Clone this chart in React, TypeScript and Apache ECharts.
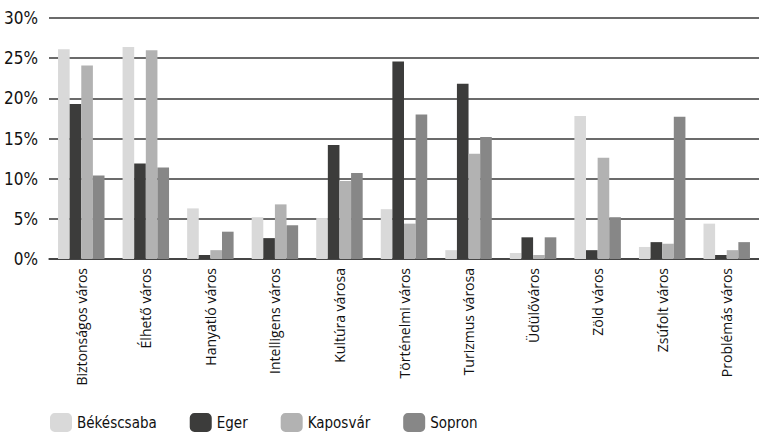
import React, { useEffect, useRef } from "react";
import * as echarts from "echarts";

const categories = [
  "Biztonságos város",
  "Élhető város",
  "Hanyatló város",
  "Intelligens város",
  "Kultúra városa",
  "Történelmi város",
  "Turizmus városa",
  "Üdülőváros",
  "Zöld város",
  "Zsúfolt város",
  "Problémás város",
];
const seriesNames = ["Békéscsaba", "Eger", "Kaposvár", "Sopron"];
const bekescsaba = [26.1, 26.4, 6.3, 5.2, 5.1, 6.2, 1.1, 0.75, 17.8, 1.5, 4.4];
const eger = [19.3, 11.9, 0.5, 2.6, 14.2, 24.6, 21.8, 2.7, 1.1, 2.1, 0.5];
const kaposvar = [24.1, 26.0, 1.1, 6.8, 9.7, 4.4, 13.1, 0.5, 12.6, 1.9, 1.1];
const sopron = [10.4, 11.4, 3.4, 4.2, 10.7, 18.0, 15.2, 2.7, 5.2, 17.7, 2.1];
const colors = ["#d9d9d9", "#3c3c3b", "#b2b2b2", "#878787"];

const condensed = "'DejaVu Sans Condensed', Roboto, sans-serif";

export default function App() {
  const ref = useRef<HTMLDivElement>(null);
  useEffect(() => {
    if (!ref.current) return;
    const chart = echarts.init(ref.current, undefined, { renderer: "svg" });
    const data = [bekescsaba, eger, kaposvar, sopron];
    chart.setOption({
      animation: false,
      grid: { left: 49, right: 0, top: 18, bottom: 177, containLabel: false },
      legend: {
        left: 50,
        top: 413,
        padding: 0,
        itemWidth: 22,
        itemHeight: 19,
        itemGap: 33,
        icon: "roundRect",
        textStyle: {
          fontFamily: condensed,
          fontSize: 15,
          color: "#111",
        },
        data: seriesNames,
      },
      xAxis: {
        type: "category",
        data: categories,
        axisLine: { show: true, lineStyle: { color: "#3a3a3a", width: 1.5 } },
        axisTick: { show: false },
        axisLabel: {
          rotate: 90,
          interval: 0,
          margin: 9,
          fontFamily: "'Open Sans', sans-serif",
          fontSize: 14,
          color: "#111",
        },
      },
      yAxis: {
        type: "value",
        min: 0,
        max: 30,
        interval: 5,
        axisLine: { show: false },
        axisTick: { show: false },
        splitLine: { lineStyle: { color: "#3a3a3a", width: 1.5 } },
        axisLabel: {
          formatter: "{value}%",
          margin: 11,
          fontFamily: condensed,
          fontSize: 17,
          color: "#111",
        },
      },
      series: seriesNames.map((name, i) => ({
        name,
        type: "bar",
        data: data[i],
        barGap: "0%",
        barCategoryGap: "28%",
        itemStyle: { color: colors[i] },
      })),
    });
    return () => chart.dispose();
  }, []);
  return (
    <div
      ref={ref}
      style={{ position: "absolute", left: 0, top: 0, width: 759, height: 436 }}
    />
  );
}
